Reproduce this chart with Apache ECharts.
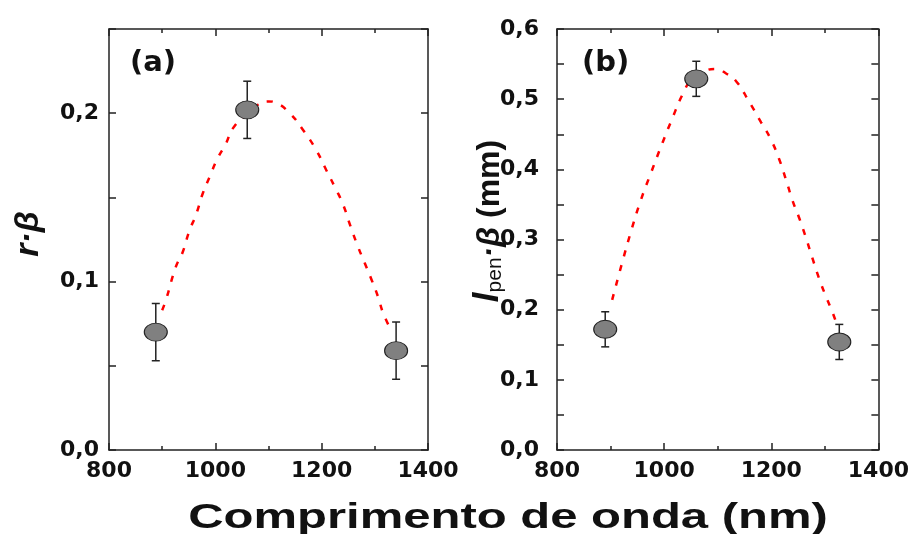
<!DOCTYPE html>
<html>
<head>
    <meta charset="utf-8">
    <title>Comprimento de onda</title>
    <script src="https://cdn.jsdelivr.net/npm/echarts@6/dist/echarts.min.js"></script>
    <style>
        body { margin: 0; background: #fff; }
        #main { width: 912px; height: 534px; }
    </style>
</head>
<body>
<div id="main"></div>
<script type="text/javascript">
    // (a) r·β
    var waveA = [888, 1060, 1340];
    var rBeta = [0.070, 0.202, 0.059];
    var rBetaErr = [0.017, 0.017, 0.017];
    var fitAx = [900, 907, 926, 938, 951, 964, 976, 989, 1004, 1020, 1033, 1060, 1080, 1100, 1115, 1140, 1165, 1190, 1209, 1225, 1240, 1253, 1268, 1281, 1294, 1306, 1316, 1331];
    var fitAy = [0.083, 0.089, 0.109, 0.117, 0.130, 0.140, 0.152, 0.162, 0.173, 0.182, 0.191, 0.200, 0.205, 0.207, 0.206, 0.200, 0.190, 0.178, 0.166, 0.156, 0.146, 0.134, 0.121, 0.111, 0.101, 0.091, 0.081, 0.071];

    // (b) lpen·β (mm)
    var waveB = [890, 1060, 1327];
    var lpen = [0.172, 0.529, 0.154];
    var lpenErr = [0.025, 0.025, 0.025];
    var fitBx = [903, 922, 938, 956, 975, 997, 1015, 1034, 1053, 1075, 1097, 1115, 1134, 1159, 1181, 1199, 1215, 1228, 1240, 1252, 1265, 1277, 1290, 1302, 1315, 1324];
    var fitBy = [0.214, 0.268, 0.311, 0.355, 0.394, 0.438, 0.472, 0.506, 0.530, 0.540, 0.543, 0.537, 0.526, 0.496, 0.467, 0.443, 0.414, 0.384, 0.355, 0.331, 0.302, 0.273, 0.243, 0.219, 0.195, 0.175];

    var xTicks = {min: 800, max: 1400, interval: 200};
    var axisColor = '#222';
    var labelFont = {fontSize: 22, fontWeight: 'bold', fontFamily: 'DejaVu Sans', color: '#111'};

    function zip(a, b) {
        return a.map(function (v, i) { return [v, b[i]]; });
    }
    function errData(x, y, e) {
        return x.map(function (v, i) { return [v, y[i] - e[i], y[i] + e[i]]; });
    }
    function yFmt(v) {
        var t = v * 10;
        if (Math.abs(t - Math.round(t)) > 1e-6) return '';
        return v.toFixed(1).replace('.', ',');
    }

    function xAxis(grid, pos) {
        return {
            type: 'value', gridIndex: grid, position: pos,
            min: xTicks.min, max: xTicks.max, interval: xTicks.interval,
            axisLine: {show: true, onZero: false, lineStyle: {color: axisColor, width: 1.5}},
            axisTick: {show: true, inside: true, length: 7, lineStyle: {color: axisColor, width: 1.5}},
            minorTick: {show: true, splitNumber: 2, length: 4, lineStyle: {color: axisColor, width: 1.5}},
            splitLine: {show: false},
            axisLabel: Object.assign({show: pos === 'bottom', margin: 10, formatter: function (v) { return String(v); }}, labelFont)
        };
    }
    function yAxis(grid, pos, max, margin) {
        return {
            type: 'value', gridIndex: grid, position: pos,
            min: 0, max: max, interval: 0.05,
            axisLine: {show: true, onZero: false, lineStyle: {color: axisColor, width: 1.5}},
            axisTick: {show: true, inside: true, length: 7, lineStyle: {color: axisColor, width: 1.5}},
            splitLine: {show: false},
            axisLabel: Object.assign({show: pos === 'left', margin: margin, formatter: yFmt}, labelFont)
        };
    }

    function errRender(params, api) {
        var lo = api.coord([api.value(0), api.value(1)]);
        var hi = api.coord([api.value(0), api.value(2)]);
        var w = 4;
        var st = {stroke: '#222', lineWidth: 1.5};
        return {
            type: 'group',
            children: [
                {type: 'line', shape: {x1: lo[0], y1: lo[1], x2: hi[0], y2: hi[1]}, style: st},
                {type: 'line', shape: {x1: lo[0] - w, y1: lo[1], x2: lo[0] + w, y2: lo[1]}, style: st},
                {type: 'line', shape: {x1: hi[0] - w, y1: hi[1], x2: hi[0] + w, y2: hi[1]}, style: st}
            ]
        };
    }

    function fitSeries(ax, data) {
        return {
            type: 'line', xAxisIndex: ax, yAxisIndex: ax, data: data,
            showSymbol: false, smooth: true, z: 2,
            lineStyle: {color: '#ff0000', width: 2.5, type: [6, 9]}
        };
    }
    function errSeries(ax, data) {
        return {type: 'custom', xAxisIndex: ax, yAxisIndex: ax, data: data, renderItem: errRender, z: 3};
    }
    function pointSeries(ax, data) {
        return {
            type: 'scatter', xAxisIndex: ax, yAxisIndex: ax, data: data, z: 4,
            symbol: 'circle', symbolSize: [23, 18],
            itemStyle: {color: '#808080', borderColor: '#222', borderWidth: 1, opacity: 1}
        };
    }

    var myChart = echarts.init(document.getElementById('main'));
    myChart.setOption({
        animation: false,
        backgroundColor: '#fff',
        grid: [
            {left: 109, top: 29, width: 319, height: 421},
            {left: 557, top: 29, width: 322, height: 421}
        ],
        xAxis: [xAxis(0, 'bottom'), xAxis(0, 'top'), xAxis(1, 'bottom'), xAxis(1, 'top')],
        yAxis: [yAxis(0, 'left', 0.25, 10), yAxis(0, 'right', 0.25, 10), yAxis(1, 'left', 0.6, 18), yAxis(1, 'right', 0.6, 10)],
        series: [
            fitSeries(0, zip(fitAx, fitAy)),
            errSeries(0, errData(waveA, rBeta, rBetaErr)),
            pointSeries(0, zip(waveA, rBeta)),
            fitSeries(2, zip(fitBx, fitBy)),
            errSeries(2, errData(waveB, lpen, lpenErr)),
            pointSeries(2, zip(waveB, lpen))
        ],
        graphic: [
            {type: 'text', x: 130, y: 63, style: {text: '(a)', font: 'bold 29px "DejaVu Sans"', fill: '#111', verticalAlign: 'middle'}},
            {type: 'text', x: 582, y: 63, style: {text: '(b)', font: 'bold 29px "DejaVu Sans"', fill: '#111', verticalAlign: 'middle'}},
            {
                type: 'text', x: 29, y: 234, rotation: Math.PI / 2,
                style: {text: 'r·β', font: 'italic bold 34px "Liberation Sans"', fill: '#111', align: 'center', verticalAlign: 'middle'}
            },
            {
                type: 'text', x: 486, y: 221, rotation: Math.PI / 2,
                style: {
                    text: '{l|l}{s|pen}{b|·β}{n| (mm)}',
                    align: 'center', verticalAlign: 'middle', fill: '#111',
                    rich: {
                        l: {fontSize: 35, fontStyle: 'italic', fontWeight: 'bold', fontFamily: 'Liberation Sans', lineHeight: 40, verticalAlign: 'bottom'},
                        s: {fontSize: 21, fontFamily: 'Liberation Sans', lineHeight: 40, verticalAlign: 'bottom'},
                        b: {fontSize: 32, fontStyle: 'italic', fontWeight: 'bold', fontFamily: 'Liberation Sans', lineHeight: 40, verticalAlign: 'bottom'},
                        n: {fontSize: 32, fontWeight: 'bold', fontFamily: 'Liberation Sans', lineHeight: 40, verticalAlign: 'bottom'}
                    }
                }
            },
            {
                type: 'text', x: 508, y: 518, scaleX: 1.4,
                style: {text: 'Comprimento de onda (nm)', font: 'bold 35px "Liberation Sans"', fill: '#111', align: 'center', verticalAlign: 'middle'}
            }
        ]
    });
</script>
</body>
</html>
